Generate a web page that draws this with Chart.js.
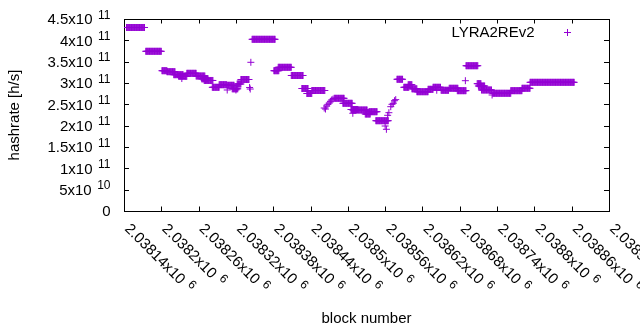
<!DOCTYPE html>
<html><head><meta charset="utf-8">
<script src="https://cdn.jsdelivr.net/npm/chart.js@4.4.1/dist/chart.umd.min.js"></script>
<style>html,body{margin:0;padding:0;background:#fff}#wrap{width:640px;height:330px;position:relative}</style>
</head><body><div id="wrap"><canvas id="c" width="640" height="330"></canvas></div>
<script>
const seriesName = 'LYRA2REv2';
const xTitle = 'block number';
const yTitle = 'hashrate [h/s]';
// Runs of consecutive blocks sharing one hashrate value (first block, last block, h/s)
const runFirst = [2038144,2038175,2038201,2038209,2038220,2038228,2038233,2038241,2038256,2038265,
  2038269,2038282,2038293,2038306,2038306,2038314,2038320,2038322,2038328,2038342,
  2038343,2038344,2038346,2038381,2038388,2038409,2038426,2038434,2038442,2038462,
  2038464,2038466,2038468,2038470,2038472,2038474,2038476,2038478,2038492,2038508,
  2038505,2038508,2038528,2038534,2038545,2038560,2038562,2038564,2038566,2038569,
  2038571,2038573,2038575,2038577,2038579,2038590,2038597,2038603,2038611,2038629,
  2038637,2038643,2038650,2038663,2038676,2038689,2038690,2038708,2038710,2038715,
  2038732,2038733,2038762,2038780,2038793];
const runLast = [2038173,2038200,2038209,2038222,2038235,2038241,2038233,2038256,2038270,2038275,
  2038283,2038293,2038305,2038306,2038317,2038323,2038320,2038328,2038341,2038342,
  2038343,2038344,2038383,2038389,2038409,2038428,2038436,2038442,2038463,2038462,
  2038464,2038466,2038468,2038470,2038472,2038474,2038476,2038494,2038507,2038508,
  2038516,2038531,2038536,2038547,2038565,2038560,2038562,2038564,2038566,2038569,
  2038571,2038573,2038575,2038577,2038588,2038598,2038603,2038611,2038629,2038637,
  2038649,2038643,2038662,2038677,2038690,2038689,2038709,2038714,2038720,2038731,
  2038732,2038762,2038780,2038793,2038864];
const runHashrate = [430.1e9,374.3e9,328.8e9,326.5e9,319.5e9,315.7e9,310.5e9,322.7e9,316.4e9,309.8e9,
  305.9e9,289.9e9,296.0e9,283.6e9,294.6e9,286.4e9,283.6e9,297.7e9,308.2e9,289.5e9,
  285.9e9,348.5e9,402.4e9,328.8e9,336.8e9,317.6e9,287.1e9,275.4e9,282.4e9,241.4e9,
  239.0e9,246.0e9,250.0e9,253.0e9,257.0e9,260.2e9,262.0e9,264.1e9,252.4e9,229.0e9,
  237.9e9,236.7e9,227.3e9,232.7e9,211.6e9,199.2e9,191.5e9,224.3e9,230.4e9,244.5e9,
  250.0e9,252.4e9,258.5e9,261.0e9,308.7e9,289.9e9,296.0e9,286.4e9,279.6e9,285.2e9,
  289.9e9,283.0e9,282.9e9,287.6e9,282.0e9,305.4e9,340.5e9,298.4e9,293.0e9,283.6e9,
  271.9e9,275.9e9,282.0e9,287.6e9,301.6e9];
const xTickValues = [2038140,2038200,2038260,2038320,2038380,2038440,2038500,2038560,2038620,2038680,2038740,2038800,2038860,2038920];
const xTickMantissa = ['2.03814','2.0382','2.03826','2.03832','2.03838','2.03844','2.0385','2.03856','2.03862','2.03868','2.03874','2.0388','2.03886','2.03892'];
const xTickExponent = ['6','6','6','6','6','6','6','6','6','6','6','6','6','6'];
const yTickValues = [0,5e10,1e11,1.5e11,2e11,2.5e11,3e11,3.5e11,4e11,4.5e11];
const yTickMantissa = ['0','5','1','1.5','2','2.5','3','3.5','4','4.5'];
const yTickExponent = ['','10','11','11','11','11','11','11','11','11'];

const points = [];
for (let i = 0; i < runFirst.length; i++) {
  for (let b = runFirst[i]; b <= runLast[i]; b++) points.push({x: b, y: runHashrate[i]});
}

const COLOR = '#9400d3';
const FONT = '"Liberation Sans", Arial, sans-serif';
const MAIN = '15px ' + FONT;
const SUP = '12px ' + FONT;

const decor = {
  id: 'decor',
  beforeDatasetsDraw(chart) {
    const ctx = chart.ctx, a = chart.chartArea;
    const xs = chart.scales.x, ys = chart.scales.y;
    ctx.save();
    ctx.strokeStyle = '#000'; ctx.lineWidth = 1;
    ctx.strokeRect(Math.round(a.left) + 0.5, Math.round(a.top) + 0.5, Math.round(a.right - a.left), Math.round(a.bottom - a.top));
    ctx.beginPath();
    xTickValues.forEach(v => {
      const x = Math.round(xs.getPixelForValue(v)) + 0.5;
      ctx.moveTo(x, a.bottom); ctx.lineTo(x, a.bottom - 4.5);
      ctx.moveTo(x, a.top); ctx.lineTo(x, a.top + 4.5);
    });
    yTickValues.forEach(v => {
      const y = Math.round(ys.getPixelForValue(v)) + 0.5;
      ctx.moveTo(a.left, y); ctx.lineTo(a.left + 5, y);
      ctx.moveTo(a.right, y); ctx.lineTo(a.right - 5, y);
    });
    ctx.stroke();
    ctx.fillStyle = '#000';
    ctx.textBaseline = 'alphabetic';
    // y tick labels
    const yRight = a.left - 13.5;
    yTickValues.forEach((v, i) => {
      const y = ys.getPixelForValue(v) + 5.3;
      ctx.textAlign = 'right';
      if (yTickExponent[i]) {
        ctx.font = SUP;
        ctx.fillText(yTickExponent[i], yRight, y - 5.5);
        const w = ctx.measureText(yTickExponent[i]).width;
        ctx.font = MAIN;
        ctx.fillText(yTickMantissa[i] + 'x10', yRight - w - 5.5, y);
      } else {
        ctx.font = MAIN;
        ctx.fillText(yTickMantissa[i], yRight, y);
      }
    });
    // x tick labels, rotated
    xTickValues.forEach((v, i) => {
      const x = xs.getPixelForValue(v);
      ctx.save();
      ctx.translate(x, a.bottom + 18.5);
      ctx.rotate(Math.PI / 4);
      ctx.textAlign = 'left';
      ctx.font = MAIN;
      const s = xTickMantissa[i] + 'x10';
      ctx.fillText(s, 0, 0);
      const w = ctx.measureText(s).width;
      ctx.font = SUP;
      ctx.fillText(xTickExponent[i], w + 5.5, -5.5);
      ctx.restore();
    });
    // axis titles
    ctx.font = MAIN;
    ctx.textAlign = 'center';
    ctx.fillText(xTitle, (a.left + a.right) / 2, 323);
    ctx.save();
    ctx.translate(19, (a.top + a.bottom) / 2);
    ctx.rotate(-Math.PI / 2);
    ctx.fillText(yTitle, 0, 0);
    ctx.restore();
    // key
    ctx.textAlign = 'right';
    ctx.fillText(seriesName, 534.5, 37);
    ctx.strokeStyle = COLOR;
    ctx.beginPath();
    ctx.moveTo(564, 32.5); ctx.lineTo(571, 32.5);
    ctx.moveTo(567.5, 29); ctx.lineTo(567.5, 36);
    ctx.stroke();
    ctx.restore();
  }
};

new Chart(document.getElementById('c').getContext('2d'), {
  type: 'scatter',
  data: {datasets: [{label: seriesName, data: points, pointStyle: 'cross', pointRadius: 3.5, pointHoverRadius: 3.5,
    borderColor: COLOR, backgroundColor: COLOR, borderWidth: 1, pointBorderWidth: 1}]},
  options: {
    responsive: false, animation: false, devicePixelRatio: 1, events: [],
    layout: {padding: {left: 124, right: 31, top: 19, bottom: 119}},
    plugins: {legend: {display: false}, tooltip: {enabled: false}},
    scales: {
      x: {type: 'linear', display: false, min: 2038140, max: 2038920},
      y: {type: 'linear', display: false, min: 0, max: 4.5e11}
    }
  },
  plugins: [decor]
});
</script></body></html>
